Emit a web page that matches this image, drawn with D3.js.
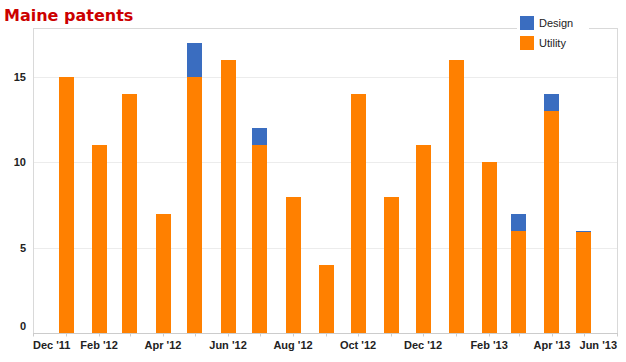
<!DOCTYPE html>
<html>
<head>
<meta charset="utf-8">
<script src="https://cdn.jsdelivr.net/npm/d3@7"></script>
<style>
  body { margin: 0; background: #fff; }
  svg { display: block; }
</style>
</head>
<body>
<svg id="chart" width="626" height="362"></svg>
<script>
// data
let months = ["2012-01", "2012-02", "2012-03", "2012-04", "2012-05", "2012-06", "2012-07", "2012-08", "2012-09",
  "2012-10", "2012-11", "2012-12", "2013-01", "2013-02", "2013-03", "2013-04", "2013-05"]
let utility = [15, 11, 14, 7, 15, 16, 11, 8, 4, 14, 8, 11, 16, 10, 6, 13, 5.94]
let design = [0, 0, 0, 0, 2, 0, 1, 0, 0, 0, 0, 0, 0, 0, 1, 1, 0.06]
let seriesNames = ["Design", "Utility"]
let yTicks = [0, 5, 10, 15]
let xStart = "2011-12", xEnd = "2013-06"

let colors = { Design: "#3a6dc0", Utility: "#ff8000" }
let width = 626, height = 362
let margin = { top: 28, right: 9, bottom: 29, left: 33 }
let barWidth = 15

let parse = d3.timeParse("%Y-%m")
let svg = d3.select("#chart")

let xScale = d3.scaleTime()
  .domain([parse(xStart), parse(xEnd)])
  .range([margin.left, width - margin.right])

let yScale = d3.scaleLinear()
  .domain([0, 17.86])
  .range([height - margin.bottom + 0.5, margin.top])

// frame
svg.append("rect")
  .attr("x", margin.left + 0.5)
  .attr("y", margin.top + 0.5)
  .attr("width", width - margin.right - margin.left)
  .attr("height", height - margin.bottom - margin.top)
  .attr("fill", "none")
  .attr("stroke", "#d9d9d9")

// gridlines
svg.append("g")
  .selectAll("line")
  .data(yTicks.filter(d => d > 0))
  .enter()
  .append("line")
  .attr("x1", margin.left + 1)
  .attr("x2", width - margin.right)
  .attr("y1", d => Math.round(yScale(d)) + 0.5)
  .attr("y2", d => Math.round(yScale(d)) + 0.5)
  .attr("stroke", "#ececec")

// stacked bars
let rows = months.map((m, i) => ({ date: parse(m), Utility: utility[i], Design: design[i] }))
let stack = d3.stack().keys(["Utility", "Design"])(rows)

svg.append("g")
  .selectAll("g")
  .data(stack)
  .enter()
  .append("g")
  .attr("fill", d => colors[d.key])
  .selectAll("rect")
  .data(d => d.filter(p => p[1] > p[0]))
  .enter()
  .append("rect")
  .attr("x", d => Math.round(xScale(d.data.date) - barWidth / 2))
  .attr("y", d => Math.round(yScale(d[1])))
  .attr("width", barWidth)
  .attr("height", d => Math.max(1, Math.round(yScale(d[0])) - Math.round(yScale(d[1]))))

// x axis line + ticks
let axisY = height - margin.bottom + 0.5
svg.append("line")
  .attr("x1", margin.left)
  .attr("x2", width - margin.right + 1)
  .attr("y1", axisY)
  .attr("y2", axisY)
  .attr("stroke", "#cccccc")

let allMonths = d3.timeMonth.range(parse(xStart), d3.timeMonth.offset(parse(xEnd), 1))
svg.append("g")
  .selectAll("line")
  .data(allMonths)
  .enter()
  .append("line")
  .attr("x1", d => Math.round(xScale(d)) + 0.5)
  .attr("x2", d => Math.round(xScale(d)) + 0.5)
  .attr("y1", axisY)
  .attr("y2", axisY + 3)
  .attr("stroke", "#cccccc")

// x labels: every other month plus the last one
let fmt = d3.timeFormat("%b '%y")
let labelMonths = allMonths.filter((d, i) => i % 2 == 0 || i == allMonths.length - 1)
svg.append("g")
  .selectAll("text")
  .data(labelMonths)
  .enter()
  .append("text")
  .attr("x", d => xScale(d))
  .attr("y", height - 13)
  .attr("text-anchor", "middle")
  .style("font", "bold 11px 'Liberation Sans', Arial, sans-serif")
  .attr("fill", "#222")
  .text(d => fmt(d))
  .each(function () {
    // keep end labels inside the plot
    let box = this.getBBox()
    if (box.x < margin.left) d3.select(this).attr("x", +d3.select(this).attr("x") + (margin.left - box.x))
    if (box.x + box.width > width - margin.right) d3.select(this).attr("x", +d3.select(this).attr("x") - (box.x + box.width - (width - margin.right)))
  })

// y labels
svg.append("g")
  .selectAll("text")
  .data(yTicks)
  .enter()
  .append("text")
  .attr("x", 26)
  .attr("y", d => yScale(d) + (d == 0 ? -7 : 0))
  .attr("dy", "0.35em")
  .attr("text-anchor", "end")
  .style("font", "bold 11px 'Liberation Sans', Arial, sans-serif")
  .attr("fill", "#222")
  .text(d => d)

// title
svg.append("text")
  .attr("x", 4)
  .attr("y", 21)
  .style("font", "bold 16px 'DejaVu Sans', Verdana, sans-serif")
  .attr("fill", "#cc0000")
  .text("Maine patents")

// legend
let legend = svg.append("g")
legend.append("rect")
  .attr("x", 517).attr("y", 14)
  .attr("width", 72).attr("height", 40)
  .attr("fill", "#fff")
let item = legend.selectAll("g")
  .data(seriesNames)
  .enter()
  .append("g")
  .attr("transform", (d, i) => "translate(520," + (16 + i * 20) + ")")
item.append("rect")
  .attr("width", 14).attr("height", 14)
  .attr("fill", d => colors[d])
item.append("text")
  .attr("x", 19).attr("y", 11)
  .style("font", "11px 'Liberation Sans', Arial, sans-serif")
  .attr("fill", "#222")
  .text(d => d)
</script>
</body>
</html>
